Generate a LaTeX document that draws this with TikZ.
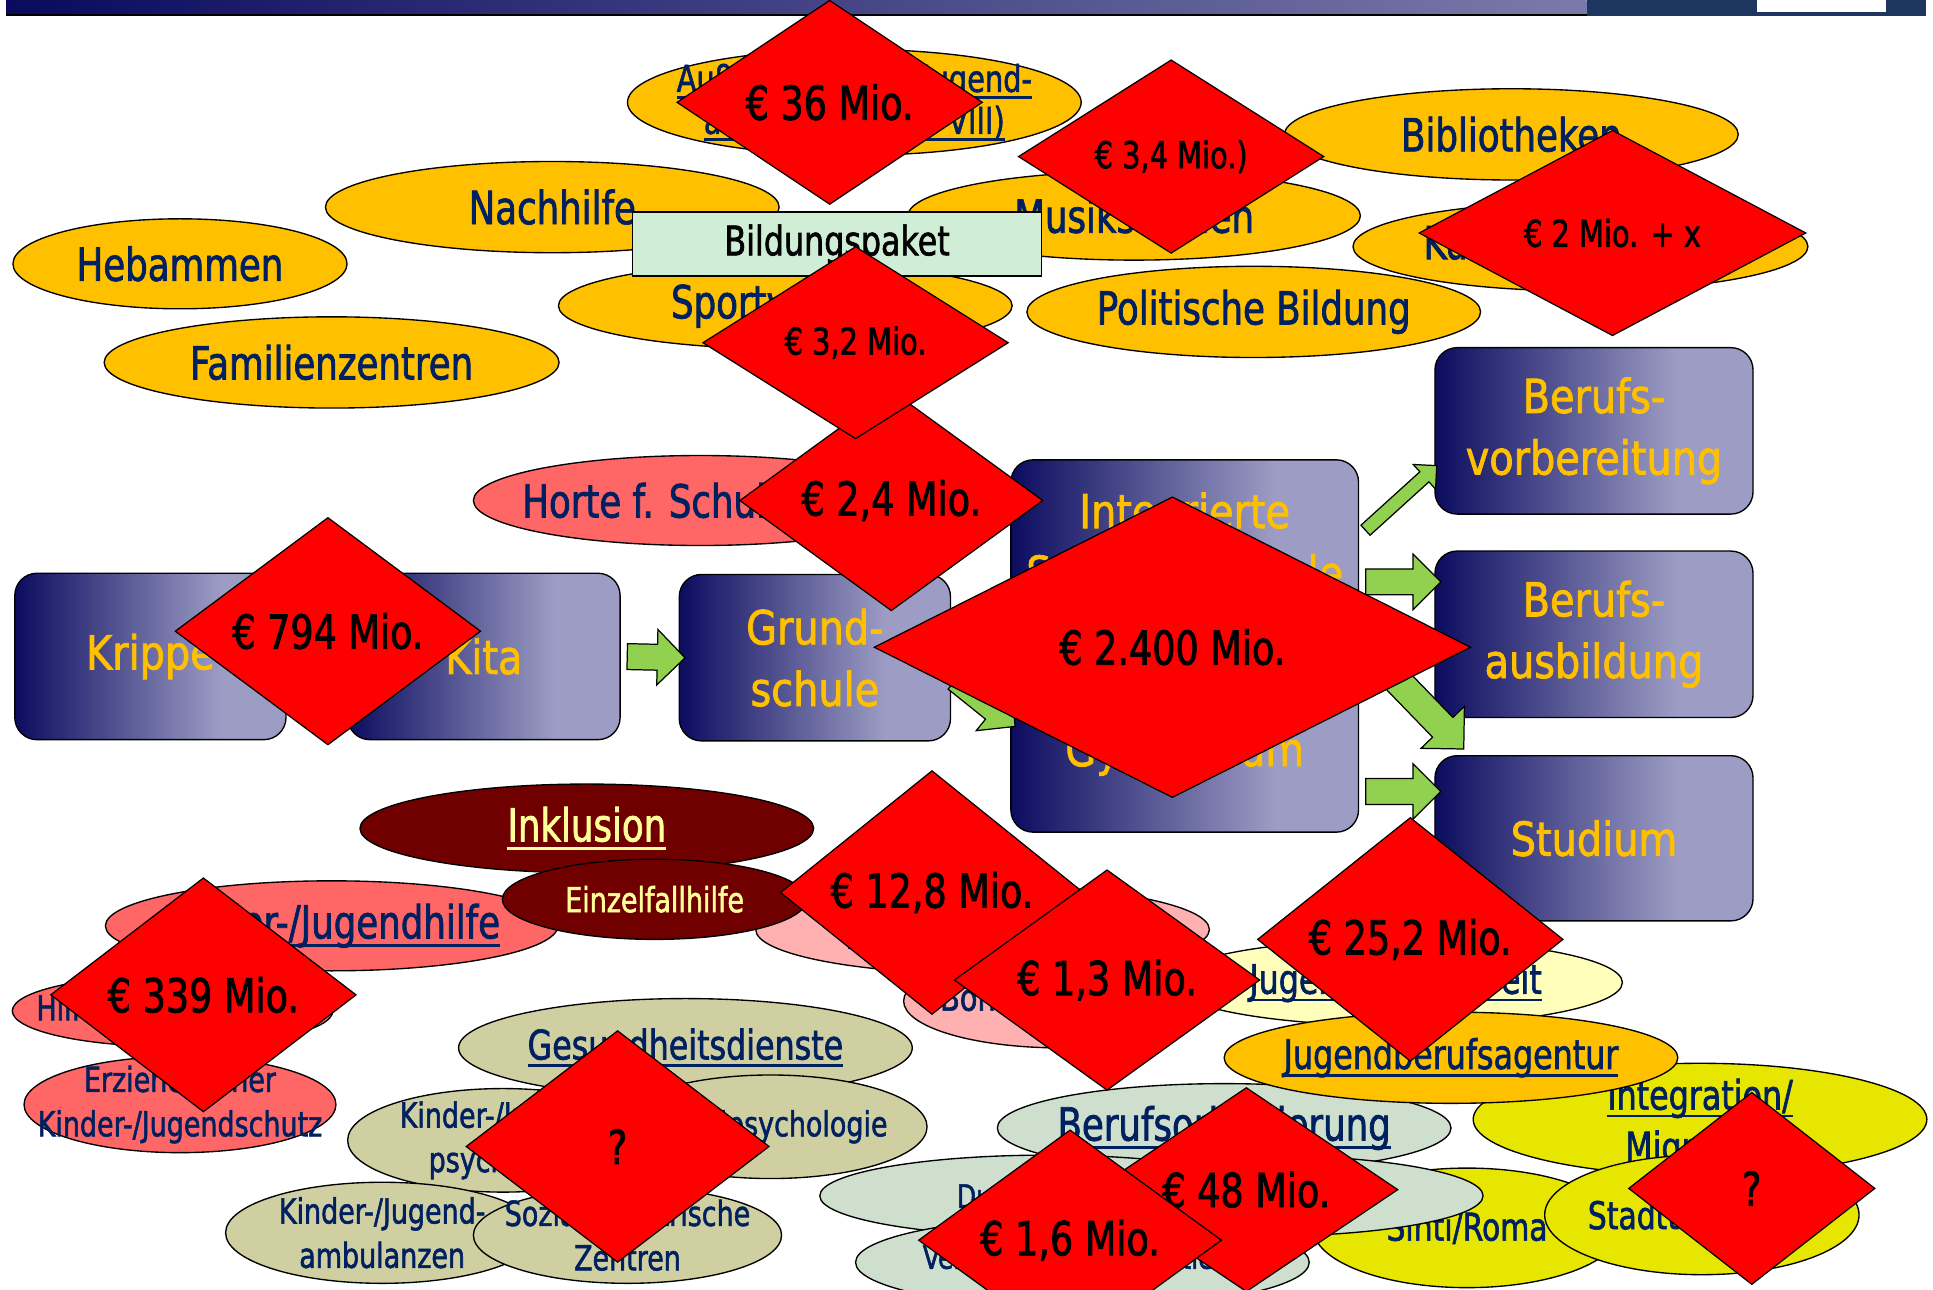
\documentclass[tikz,border=0pt]{standalone}
\usepackage{fontspec}
\setmainfont{DejaVu Sans}[FakeStretch=0.78, FakeBold=1.6]
\newfontfamily\stagefont{DejaVu Sans}[FakeStretch=0.85, FakeBold=1.6]
\usetikzlibrary{shapes.geometric,shapes.arrows,calc}

\definecolor{barleft}{RGB}{10,10,94}
\definecolor{barright}{RGB}{122,122,170}
\definecolor{bardark}{RGB}{28,54,95}
\definecolor{stagedark}{RGB}{12,12,96}
\definecolor{stagelight}{RGB}{156,156,196}
\definecolor{inknavy}{RGB}{0,32,96}
\definecolor{offergold}{RGB}{255,192,0}
\definecolor{ovrose}{RGB}{255,102,102}
\definecolor{ovpink}{RGB}{255,176,176}
\definecolor{ovwine}{RGB}{112,0,0}
\definecolor{inkpale}{RGB}{255,255,153}
\definecolor{ovcream}{RGB}{255,255,187}
\definecolor{ovkhaki}{RGB}{208,207,162}
\definecolor{ovsage}{RGB}{207,223,205}
\definecolor{ovlime}{RGB}{230,230,0}
\definecolor{paketmint}{RGB}{208,238,214}
\definecolor{flowgreen}{RGB}{146,208,80}
\definecolor{cashred}{RGB}{255,0,0}

\pgfdeclarehorizontalshading{stageshade}{100bp}{color(0bp)=(stagedark); color(25bp)=(stagedark); color(63bp)=(stagelight); color(100bp)=(stagelight)}

% thick underline as on the slide
\newcommand\ul[1]{\leavevmode\setbox0\hbox{#1}\rlap{\rule[-0.19em]{\wd0}{0.07em}}\box0}

% green block arrow from #2 to #3
\newcommand\blockarrow[3][]{%
  \path let \p1=(#2), \p2=(#3), \n1={atan2(\y2-\y1,\x2-\x1)}, \n2={veclen(\x2-\x1,\y2-\y1)} in
    node[flow, #1, rotate=\n1, minimum height=\n2] at ($(#2)!0.5!(#3)$) {};}

\tikzset{
  oval/.style={ellipse, draw=black, line width=1.1pt, inner sep=0pt},
  bigtext/.style={text=inknavy, align=center, font=\fontsize{37}{42}\selectfont},
  midtext/.style={text=inknavy, align=center, font=\fontsize{33}{40}\selectfont},
  smalltext/.style={text=inknavy, align=center, font=\fontsize{28}{36}\selectfont},
  stage/.style={rectangle, rounded corners=18pt, draw=black, line width=1.1pt, shade, shading=stageshade, text=offergold, align=center, inner sep=0pt, font=\stagefont\fontsize{38}{50}\selectfont},
  money/.style={diamond, draw=black, line width=1pt, fill=cashred, inner sep=0pt, align=center, font=\fontsize{38}{44}\selectfont},
  smallmoney/.style={money, font=\fontsize{30}{36}\selectfont},
  flow/.style={single arrow, draw=black, line width=1pt, fill=flowgreen, inner sep=0pt, inner ysep=10pt, minimum width=44pt, single arrow head extend=12pt, single arrow head indent=0pt},
}

\begin{document}
\begin{tikzpicture}[x=1pt, y=-1pt]
\useasboundingbox (0,0) rectangle (1568,1046);

% title bar
\shade[left color=barleft, right color=barright] (5,0) rectangle (1287,11.5);
\fill[black] (5,11.5) rectangle (1287,13);
\fill[bardark] (1287,0) rectangle (1562,13);
\fill[white] (1425,0) rectangle (1530,9.5);

% offers around school
\node[oval, fill=offergold, minimum width=368, minimum height=86] (jugendarbeit) at (693,83) {};
\node[bigtext, font=\fontsize{30}{34}\selectfont] at (jugendarbeit) {\ul{Außerschulische Jugend-}\\\ul{arbeit (§ 11 SGB VIII)}};
\node[oval, fill=offergold, minimum width=368, minimum height=74] (biblio) at (1226,109) {};
\node[bigtext] at (biblio) {Bibliotheken};
\node[oval, fill=offergold, minimum width=368, minimum height=74] (nachhilfe) at (448,168) {};
\node[bigtext] at (nachhilfe) {Nachhilfe};
\node[oval, fill=offergold, minimum width=367, minimum height=72] (musik) at (920,175) {};
\node[bigtext] at (musik) {Musikschulen};
\node[oval, fill=offergold, minimum width=369, minimum height=72] (kultur) at (1282,200) {};
\node[bigtext] at (kultur) {Kulturelle Bildung};
\node[oval, fill=offergold, minimum width=271, minimum height=73] (hebammen) at (146,214) {};
\node[bigtext] at (hebammen) {Hebammen};
\node[oval, fill=offergold, minimum width=368, minimum height=70] (sport) at (637,248) {};
\node[bigtext] at (sport) {Sportvereine};
\node[oval, fill=offergold, minimum width=368, minimum height=74] (politik) at (1017,253) {};
\node[bigtext] at (politik) {Politische Bildung};
\node[oval, fill=offergold, minimum width=369, minimum height=74] (familie) at (269,294) {};
\node[bigtext] at (familie) {Familienzentren};

\node[draw=black, line width=1.1pt, fill=paketmint, minimum width=332, minimum height=52, inner sep=0pt, font=\fontsize{33}{40}\selectfont] (paket) at (679,198) {Bildungspaket};

\node[oval, fill=ovrose, minimum width=368, minimum height=73] (horte) at (568,406) {};
\node[bigtext] at (horte) {Horte f. Schulkinder};

% stages
\node[stage, minimum width=220, minimum height=135] (krippe) at (122,532.5) {Krippe};
\node[stage, minimum width=221, minimum height=135] (kita) at (392.5,532.5) {Kita};
\node[stage, minimum width=220, minimum height=135] (grund) at (661,533.5) {Grund-\\schule};
\node[stage, minimum width=282, minimum height=302] (integ) at (961,524) {Integrierte\\Sekundarschule\\[93pt]Gymnasium\rule[-27pt]{0pt}{0pt}};
\node[stage, minimum width=258, minimum height=135] (vorb) at (1293,349.5) {Berufs-\\vorbereitung};
\node[stage, minimum width=258, minimum height=135] (ausb) at (1293,514.5) {Berufs-\\ausbildung};
\node[stage, minimum width=258, minimum height=134] (studium) at (1293,680) {Studium};

\coordinate (g1) at ($(grund.east)+(0,14)$);
\coordinate (g2) at ($(integ.west)+(0,62)$);
\coordinate (v1) at ($(integ.east)+(3,-92)$);
\coordinate (v2) at ($(vorb.west)+(0,30)$);
\coordinate (a1) at ($(integ.east)+(0,-52)$);
\coordinate (a2) at ($(ausb.west)+(0,-42.5)$);
\coordinate (d1) at ($(integ.east)+(0,-4)$);
\coordinate (d2) at ($(ausb.south west)+(20,21)$);
\coordinate (s1) at ($(integ.east)+(0,118)$);
\coordinate (s2) at ($(studium.west)+(0,-38)$);

\blockarrow{kita.east}{grund.west}
\blockarrow{g1}{g2}
\blockarrow[inner ysep=5pt, minimum width=26pt, single arrow head extend=8pt]{v1}{v2}
\blockarrow{a1}{a2}
\blockarrow[inner ysep=11pt, minimum width=48pt, single arrow head extend=13pt]{d1}{d2}
\blockarrow{s1}{s2}

% help and support
\node[oval, fill=ovrose, minimum width=367, minimum height=73] (jugendhilfe) at (269,751) {};
\node[bigtext] at (jugendhilfe) {\ul{Kinder-/Jugendhilfe}};
\node[oval, fill=ovrose, minimum width=260, minimum height=58] (hze) at (140,820) {};
\node[smalltext] at (hze) {Hilfen zur Erziehung};
\node[oval, fill=ovrose, minimum width=253, minimum height=78] (schutz) at (146,896) {};
\node[smalltext] at (schutz) {Erzieherischer\\Kinder-/Jugendschutz};

\node[oval, fill=ovpink, minimum width=368, minimum height=72] (schulsoz) at (797,754) {};
\node[midtext] at (schulsoz) {\ul{Schulsozialarbeit}};
\node[oval, fill=ovpink, minimum width=254, minimum height=76] (bonus) at (860,812) {};
\node[smalltext, font=\fontsize{30}{36}\selectfont] at (bonus) {Bonusprogramm};

\node[oval, fill=ovwine, minimum width=368, minimum height=72] (inklusion) at (476,672) {};
\node[bigtext, text=inkpale] at (inklusion) {\ul{Inklusion}};
\node[oval, fill=ovwine, minimum width=247, minimum height=65] (einzel) at (531,729.5) {};
\node[smalltext, text=inkpale] at (einzel) {Einzelfallhilfe};

\node[oval, fill=ovkhaki, minimum width=368, minimum height=80] (gesund) at (556,850) {};
\node[midtext] at (gesund) {\ul{Gesundheitsdienste}};
\node[oval, fill=ovkhaki, minimum width=252, minimum height=84] (psychiatrie) at (408,925) {};
\node[smalltext] at (psychiatrie) {Kinder-/Jugend-\\psychiatrie};
\node[oval, fill=ovkhaki, minimum width=254, minimum height=84] (psychologie) at (625,914) {};
\node[smalltext] at (psychologie) {Schulpsychologie};
\node[oval, fill=ovkhaki, minimum width=254, minimum height=82] (ambulanz) at (310,1000) {};
\node[smalltext] at (ambulanz) {Kinder-/Jugend-\\ambulanzen};
\node[oval, fill=ovkhaki, minimum width=250, minimum height=78] (sozpaed) at (509,1002) {};
\node[smalltext] at (sozpaed) {Sozialpädiatrische\\Zentren};

\node[oval, fill=ovsage, minimum width=368, minimum height=72] (berufso) at (993,915) {};
\node[bigtext] at (berufso) {\ul{Berufsorientierung}};
\node[oval, fill=ovlime, minimum width=368, minimum height=91] (integration) at (1379,908) {};
\node[midtext, font=\fontsize{33}{42}\selectfont] at ($(integration)+(0,4)$) {\ul{Integration/}\\Migration};
\node[oval, fill=ovlime, minimum width=250, minimum height=97] (sinti) at (1190,996) {};
\node[midtext, font=\fontsize{31}{38}\selectfont] at (sinti) {Sinti/Roma};
\node[oval, fill=ovlime, minimum width=255, minimum height=97] (stadtteil) at (1380.5,985.5) {};
\node[midtext, font=\fontsize{31}{38}\selectfont] at (stadtteil) {Stadtteilmütter};
\node[oval, fill=ovsage, minimum width=368, minimum height=66] (praxis) at (1019,970) {};
\node[oval, fill=ovsage, minimum width=368, minimum height=66] (duales) at (849,970) {};
\node[smalltext, font=\fontsize{26}{32}\selectfont] at (duales) {Duales Lernen};
\node[oval, fill=ovsage, minimum width=368, minimum height=74] (vertieft) at (878,1024) {};
\node[smalltext, font=\fontsize{26}{32}\selectfont] at ($(vertieft)+(12,-2)$) {Vertiefte Berufsorientierung};

\node[oval, fill=ovcream, minimum width=368, minimum height=70] (jsa) at (1132,797) {};
\node[midtext] at (jsa) {\ul{Jugendsozialarbeit}};
\node[oval, fill=offergold, minimum width=368, minimum height=74] (jba) at (1177,858) {};
\node[midtext] at (jba) {\ul{Jugendberufsagentur}};

% money
\node[money, minimum width=248, minimum height=158] (m36) at (673,83) {€ 36 Mio.};
\node[smallmoney, minimum width=248, minimum height=157] (m34) at (950,127) {€ 3,4 Mio.)};
\node[smallmoney, minimum width=314, minimum height=156] (m2x) at (1308,189) {€ 2 Mio. + x};
\node[money, minimum width=246, minimum height=156] (m24) at (723,406) {€ 2,4 Mio.};
\node[smallmoney, minimum width=248, minimum height=156] (m32) at (694,278) {€ 3,2 Mio.};
\node[money, minimum width=248, minimum height=158] (m794) at (266,512) {€ 794 Mio.};
\node[money, minimum width=484, minimum height=244] (m2400) at (951,525) {€ 2.400 Mio.};
\node[money, minimum width=246, minimum height=158] (m128) at (756,724) {€ 12,8 Mio.};
\node[money, minimum width=248, minimum height=158] (m13) at (898,795) {€ 1,3 Mio.};
\node[money, minimum width=248, minimum height=158] (m252) at (1144,762) {€ 25,2 Mio.};
\node[money, minimum width=248, minimum height=190] (m339) at (165,807) {€ 339 Mio.};
\node[money, minimum width=246, minimum height=188] (mq1) at (501,930) {?};
\node[money, minimum width=246, minimum height=158] (m48) at (1011,965) {€ 48 Mio.};
\node[money, minimum width=246, minimum height=158] (m16) at (868,1006) {€ 1,6 Mio.};
\node[money, minimum width=200, minimum height=156] (mq2) at (1421,964) {?};
\end{tikzpicture}
\end{document}
